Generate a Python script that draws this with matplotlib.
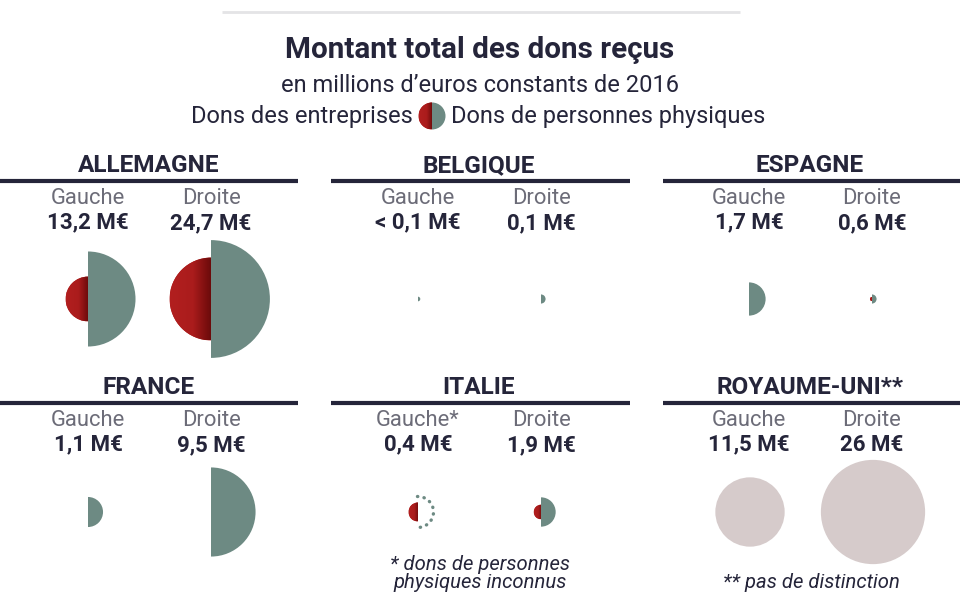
import numpy as np
import matplotlib
matplotlib.use("Agg")
import matplotlib.pyplot as plt
from matplotlib.patches import Wedge, Circle, Arc
from matplotlib.colors import LinearSegmentedColormap

plt.rcParams['font.family'] = ['Roboto', 'DejaVu Sans']

# ---- data ----
pays = ["ALLEMAGNE", "BELGIQUE", "ESPAGNE", "FRANCE", "ITALIE", "ROYAUME-UNI**"]
label_gauche = ["Gauche", "Gauche", "Gauche", "Gauche", "Gauche*", "Gauche"]
label_droite = ["Droite"] * 6
total_gauche_txt = ["13,2 M€", "< 0,1 M€", "1,7 M€", "1,1 M€", "0,4 M€", "11,5 M€"]
total_droite_txt = ["24,7 M€", "0,1 M€", "0,6 M€", "9,5 M€", "1,9 M€", "26 M€"]
# values (M€) read from the semicircle areas; nan = unknown / not split
entreprises_gauche = [2.4, 0.0, 0.0, 0.0, 0.43, np.nan]
personnes_gauche = [10.8, 0.025, 1.32, 1.08, np.nan, np.nan]
entreprises_droite = [8.2, 0.0, 0.02, 0.0, 0.25, np.nan]
personnes_droite = [16.6, 0.1, 0.1, 9.5, 1.03, np.nan]
total_gauche = [13.2, 0.05, 1.7, 1.1, 0.4, 11.5]
total_droite = [24.7, 0.1, 0.6, 9.5, 1.9, 26.0]
sans_distinction = [False, False, False, False, False, True]
inconnu_gauche = [False, False, False, False, True, False]

# ---- style ----
DARK = "#25253a"
GREY = "#6c6c78"
GREEN = "#6d8a83"
RED = "#ad1d1d"
PINK = "#d6cbcb"
SCALE = 209.0  # px^2 per M€ for a half-disc radius^2

red_cmap = LinearSegmentedColormap.from_list(
    "r", [(0, "#b21f1f"), (0.55, "#aa1c1c"), (1, "#680a0a")])
grad = np.linspace(0, 1, 64).reshape(1, -1)

fig = plt.figure(figsize=(9.6, 6), dpi=100)
ax = fig.add_axes([0, 0, 1, 1])
ax.axis("off")


def red_half(cx, cy, v):
    if not np.isfinite(v) or v <= 0:
        return
    r = np.sqrt(SCALE * v)
    w = Wedge((cx, cy), r, 90, 270, facecolor=RED, edgecolor="none")
    ax.add_patch(w)
    im = ax.imshow(grad, cmap=red_cmap, extent=(cx - r, cx, cy + r, cy - r),
                   aspect="auto", interpolation="bilinear", zorder=2)
    im.set_clip_path(w)


def green_half(cx, cy, v):
    if not np.isfinite(v) or v <= 0:
        return
    r = np.sqrt(SCALE * v)
    ax.add_patch(Wedge((cx, cy), r, -90, 90, facecolor=GREEN,
                       edgecolor="none", zorder=3))


# top rule
ax.plot([222, 740], [12, 12], color="#e4e4e6", lw=2, solid_capstyle="butt")

# titles
ax.text(480, 50, "Montant total des dons reçus", ha="center", va="center",
        fontsize=21.3, fontweight="bold", color=DARK)
ax.text(480, 85, "en millions d\u2019euros constants de 2016", ha="center",
        va="center", fontsize=17, color=DARK)
ax.text(413, 117, "Dons des entreprises", ha="right", va="center",
        fontsize=17, color=DARK)
ax.text(451, 117, "Dons de personnes physiques", ha="left", va="center",
        fontsize=17, color=DARK)
# legend icon
leg_v = 13.5 ** 2 / SCALE
red_half(432, 116, leg_v)
green_half(432, 116, leg_v)

col_x0 = [0, 330, 661]
line_x = [(0, 298), (331, 630), (663, 960)]
row_y = [0, 222]

for i, p in enumerate(pays):
    row, col = divmod(i, 3)
    x0 = col_x0[col]
    dy = row_y[row]
    ax.text(x0 + 149, 166 + dy, p, ha="center", va="center",
            fontsize=17.6, fontweight="bold", color=DARK)
    ax.plot(line_x[col], [181 + dy, 181 + dy], color=DARK, lw=3,
            solid_capstyle="butt")
    gx, dx = x0 + 88, x0 + 211
    ax.text(gx, 199 + dy, label_gauche[i], ha="center", va="center",
            fontsize=15.8, color=GREY)
    ax.text(dx, 199 + dy, label_droite[i], ha="center", va="center",
            fontsize=15.8, color=GREY)
    ax.text(gx, 222 + dy, total_gauche_txt[i], ha="center", va="center",
            fontsize=16, fontweight="bold", color=DARK)
    ax.text(dx, 223 + dy, total_droite_txt[i], ha="center", va="center",
            fontsize=16, fontweight="bold", color=DARK)
    cy = 299 + dy - (9 if row == 1 else 0)
    if sans_distinction[i]:
        for cx, v in ((gx + 1, total_gauche[i]), (dx + 1, total_droite[i])):
            r = np.sqrt(SCALE * v / 2)
            ax.add_patch(Circle((cx, cy), r, facecolor=PINK, edgecolor="none"))
        continue
    red_half(gx, cy, entreprises_gauche[i])
    green_half(gx, cy, personnes_gauche[i])
    red_half(dx, cy, entreprises_droite[i])
    green_half(dx, cy, personnes_droite[i])
    if inconnu_gauche[i]:
        r = np.sqrt(SCALE * 1.15)
        ax.add_patch(Arc((gx, cy), 2 * r, 2 * r, theta1=-92, theta2=92,
                         color=GREEN, lw=2.4, linestyle=(0, (0.1, 1.9)),
                         capstyle="round", zorder=3))

# footnotes
ax.text(480, 564, "* dons de personnes", ha="center", va="center",
        fontsize=14.6, style="italic", color=DARK)
ax.text(480, 583, "physiques inconnus", ha="center", va="center",
        fontsize=14.6, style="italic", color=DARK)
ax.text(811, 582, "** pas de distinction", ha="center", va="center",
        fontsize=14.6, style="italic", color=DARK)

ax.set_xlim(0, 960)
ax.set_ylim(600, 0)
fig.savefig("out.png", dpi=100, facecolor="white")
